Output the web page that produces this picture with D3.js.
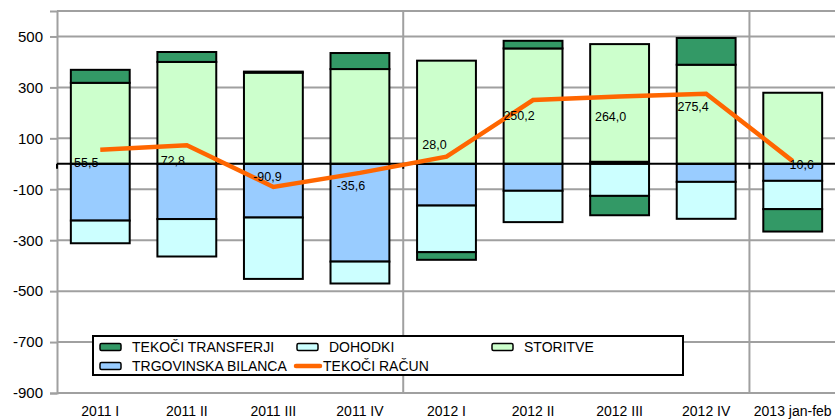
<!DOCTYPE html>
<html>
<head>
<meta charset="utf-8">
<script src="https://cdn.jsdelivr.net/npm/d3@7"></script>
<style>
  body { margin: 0; background: #fff; }
  svg { display: block; font-family: "Liberation Sans", Arial, sans-serif; }
</style>
</head>
<body>
<div id="chart"></div>
<script>
const categories = ["2011 I", "2011 II", "2011 III", "2011 IV", "2012 I", "2012 II", "2012 III", "2012 IV", "2013 jan-feb"];

const trgovinska = [-223, -217, -211, -384, -164, -106, 8, -71, -67];
const dohodki    = [-89, -147, -241, -86, -183, -123, -126, -145, -111];
const storitve   = [318, 400, 358, 372, 405, 453, 462, 389, 279];
const transferji = [51, 39, 4, 63, -30, 30, -76, 105, -88];
const tekociRacun = [55.5, 72.8, -90.9, -35.6, 28.0, 250.2, 264.0, 275.4, 10.6];

const yTicks = [-900, -700, -500, -300, -100, 100, 300, 500];

const seriesInfo = [
  { key: "trgovinska", label: "TRGOVINSKA BILANCA", color: "#99ccff" },
  { key: "dohodki",    label: "DOHODKI",            color: "#ccffff" },
  { key: "storitve",   label: "STORITVE",           color: "#ccffcc" },
  { key: "transferji", label: "TEKOČI TRANSFERJI",  color: "#339966" }
];

// manual data label offsets (from point to label centre), like the original
const labelOffsets = [[-14, 13], [-14, 15], [-6, -10], [-9, 13], [-12, -12], [-14, 15], [-9, 20], [-13, 13], [9, 3]];

const width = 835, height = 419;
const margin = { top: 11, right: -1, bottom: 26, left: 57 };
const innerW = width - margin.left - margin.right;
const innerH = height - margin.top - margin.bottom;

const rows = categories.map((c, i) => ({
  cat: c,
  trgovinska: trgovinska[i],
  dohodki: dohodki[i],
  storitve: storitve[i],
  transferji: transferji[i],
  racun: tekociRacun[i]
}));

const svg = d3.select("#chart").append("svg")
  .attr("width", width)
  .attr("height", height);

const g = svg.append("g")
  .attr("transform", `translate(${margin.left}, ${margin.top})`);

const x = d3.scaleBand()
  .domain(categories)
  .range([0, innerW])
  .paddingInner(0.32)
  .paddingOuter(0.16);

const step = innerW / categories.length;

const y = d3.scaleLinear()
  .domain([-900, 600])
  .range([innerH, 0]);

// Gridlines
g.append("g")
  .selectAll("line")
  .data(yTicks)
  .join("line")
  .attr("x1", 0)
  .attr("x2", innerW)
  .attr("y1", d => y(d))
  .attr("y2", d => y(d))
  .attr("stroke", "#a0a0a0")
  .attr("stroke-width", 2);

g.append("line")
  .attr("x1", 0).attr("x2", innerW)
  .attr("y1", 0).attr("y2", 0)
  .attr("stroke", "#a0a0a0")
  .attr("stroke-width", 2);

// vertical year separators
g.append("g")
  .selectAll("line")
  .data([4, 8])
  .join("line")
  .attr("x1", d => d * step)
  .attr("x2", d => d * step)
  .attr("y1", 0)
  .attr("y2", innerH)
  .attr("stroke", "#a0a0a0")
  .attr("stroke-width", 2);

// Y axis
const yAxis = g.append("g")
  .call(d3.axisLeft(y).tickValues(yTicks).tickSize(7).tickPadding(7).tickFormat(d3.format("d")));
yAxis.select(".domain").attr("stroke", "#a0a0a0").attr("stroke-width", 2);
yAxis.selectAll(".tick line").attr("stroke", "#a0a0a0").attr("stroke-width", 2);
yAxis.selectAll(".tick text")
  .attr("fill", "#000")
  .style("font-size", "15px")
  .text(d => d < 0 ? "-" + Math.abs(d) : d);

// Stacked bars
const stack = d3.stack()
  .keys(seriesInfo.map(s => s.key))
  .offset(d3.stackOffsetDiverging);
const stacked = stack(rows);

stacked.forEach((layer, li) => {
  g.append("g")
    .selectAll("rect")
    .data(layer)
    .join("rect")
    .attr("x", d => x(d.data.cat))
    .attr("width", x.bandwidth())
    .attr("y", d => y(Math.max(d[0], d[1])))
    .attr("height", d => Math.abs(y(d[0]) - y(d[1])))
    .attr("fill", seriesInfo[li].color)
    .attr("stroke", "#000")
    .attr("stroke-width", 2);
});

// Zero line with tick marks
g.append("line")
  .attr("x1", 0).attr("x2", innerW)
  .attr("y1", y(0)).attr("y2", y(0))
  .attr("stroke", "#000")
  .attr("stroke-width", 2);

g.append("g")
  .selectAll("line")
  .data([0, 4, 8])
  .join("line")
  .attr("x1", d => d * step)
  .attr("x2", d => d * step)
  .attr("y1", y(0))
  .attr("y2", y(0) + 5)
  .attr("stroke", "#000")
  .attr("stroke-width", 2);

// Tekoči račun line
const cx = d => x(d.cat) + x.bandwidth() / 2;
const line = d3.line()
  .x(d => cx(d))
  .y(d => y(d.racun));

g.append("path")
  .datum(rows)
  .attr("d", line)
  .attr("fill", "none")
  .attr("stroke", "#ff6600")
  .attr("stroke-width", 4.5)
  .attr("stroke-linejoin", "miter");

const fmt = v => v.toFixed(1).replace(".", ",");
g.append("g")
  .selectAll("text")
  .data(rows)
  .join("text")
  .attr("x", (d, i) => cx(d) + labelOffsets[i][0])
  .attr("y", (d, i) => y(d.racun) + labelOffsets[i][1] + 4.5)
  .attr("text-anchor", "middle")
  .style("font-size", "12.5px")
  .attr("fill", "#000")
  .text(d => fmt(d.racun));

// X labels
g.append("g")
  .selectAll("text")
  .data(categories)
  .join("text")
  .attr("x", d => x(d) + x.bandwidth() / 2)
  .attr("y", innerH + 23)
  .attr("text-anchor", "middle")
  .style("font-size", "14px")
  .attr("fill", "#000")
  .text(d => d);

// Legend
const legend = svg.append("g").attr("transform", "translate(93, 336)");
legend.append("rect")
  .attr("width", 590)
  .attr("height", 39)
  .attr("fill", "#fff")
  .attr("stroke", "#000")
  .attr("stroke-width", 2);

const legendItems = [
  { label: "TEKOČI TRANSFERJI",  color: "#339966", x: 7,   y: 11, type: "rect" },
  { label: "DOHODKI",            color: "#ccffff", x: 204, y: 11, type: "rect" },
  { label: "STORITVE",           color: "#ccffcc", x: 399, y: 11, type: "rect" },
  { label: "TRGOVINSKA BILANCA", color: "#99ccff", x: 7,   y: 30, type: "rect" },
  { label: "TEKOČI RAČUN",       color: "#ff6600", x: 202, y: 30, type: "line" }
];

legendItems.forEach(it => {
  const item = legend.append("g").attr("transform", `translate(${it.x}, ${it.y})`);
  if (it.type === "rect") {
    item.append("rect")
      .attr("x", 0).attr("y", -3.5)
      .attr("width", 21).attr("height", 7)
      .attr("rx", 1.5)
      .attr("fill", it.color)
      .attr("stroke", "#000")
      .attr("stroke-width", 1.5);
  } else {
    item.append("line")
      .attr("x1", 1).attr("x2", 25)
      .attr("y1", 0).attr("y2", 0)
      .attr("stroke", it.color)
      .attr("stroke-width", 4.5)
      .attr("stroke-linecap", "round");
  }
  item.append("text")
    .attr("x", it.type === "rect" ? 32 : 28)
    .attr("y", 5)
    .style("font-size", "14px")
    .attr("fill", "#000")
    .text(it.label);
});
</script>
</body>
</html>
